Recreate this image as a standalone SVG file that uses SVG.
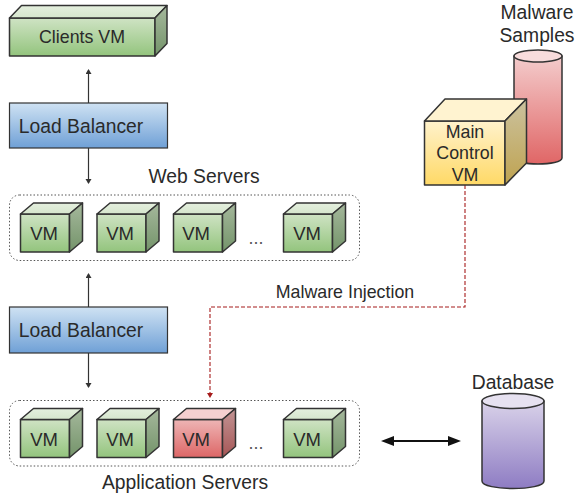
<svg xmlns="http://www.w3.org/2000/svg" width="575" height="496" viewBox="0 0 575 496">
<style>
text{font-family:"Liberation Sans",Arial,sans-serif;fill:#2a2a2a;text-anchor:middle}
.e{stroke:#333;stroke-width:1.500;stroke-linejoin:round}
.c{fill:none;stroke:#333;stroke-width:1.200}
.g{fill:url(#gf)}.gt{fill:url(#gt)}.gs{fill:url(#gs)}
.r{fill:url(#rf)}.rt{fill:#f5d0d0}.rs{fill:url(#rs)}
.box{fill:none;stroke:#555;stroke-width:1;stroke-dasharray:1.500 2}
</style>
<defs>
<linearGradient id="gf" x1="0" y1="0" x2="0" y2="1"><stop offset="0" stop-color="#cfe3c4"/><stop offset="1" stop-color="#93c47d"/></linearGradient>
<linearGradient id="gt" x1="0" y1="0" x2="0" y2="1"><stop offset="0" stop-color="#e4efde"/><stop offset="1" stop-color="#d6e6cd"/></linearGradient>
<linearGradient id="gs" x1="0" y1="0" x2="0" y2="1"><stop offset="0" stop-color="#a5b89c"/><stop offset="1" stop-color="#74946a"/></linearGradient>
<linearGradient id="rf" x1="0" y1="0" x2="0" y2="1"><stop offset="0" stop-color="#eeb5b5"/><stop offset="1" stop-color="#dd6666"/></linearGradient>
<linearGradient id="rs" x1="0" y1="0" x2="0" y2="1"><stop offset="0" stop-color="#c29494"/><stop offset="1" stop-color="#a65656"/></linearGradient>
<linearGradient id="b" x1="0" y1="0" x2="0" y2="1"><stop offset="0" stop-color="#cfe2f3"/><stop offset="1" stop-color="#6fa0d6"/></linearGradient>
<linearGradient id="y" x1="0" y1="0" x2="0" y2="1"><stop offset="0" stop-color="#fff2cc"/><stop offset="1" stop-color="#ffd966"/></linearGradient>
<linearGradient id="ys" x1="0" y1="0" x2="0" y2="1"><stop offset="0" stop-color="#cbc29f"/><stop offset="1" stop-color="#bfa350"/></linearGradient>
<linearGradient id="p" x1="0" y1="0" x2="0" y2="1"><stop offset="0" stop-color="#d9d2e9"/><stop offset="1" stop-color="#8e7cc3"/></linearGradient>
<linearGradient id="m" x1="0" y1="0" x2="0" y2="1"><stop offset="0" stop-color="#f4cccc"/><stop offset="1" stop-color="#e06666"/></linearGradient>
<marker id="a" markerWidth="8" markerHeight="8" refX="4" refY="3" orient="auto" markerUnits="userSpaceOnUse"><path d="M0 0L5 3L0 6Z" fill="#333"/></marker>
<marker id="ar" markerWidth="8" markerHeight="8" refX="4" refY="3" orient="auto" markerUnits="userSpaceOnUse"><path d="M0 0L5 3L0 6Z" fill="#a61c1c"/></marker>
<g id="vm"><path class="e g" d="M0 11H49V49H0Z"/><path class="e gt" d="M0 11L13 0H62L49 11Z"/><path class="e gs" d="M49 11L62 0V38L49 49Z"/></g>
<g id="vmr"><path class="e r" d="M0 11H49V49H0Z"/><path class="e rt" d="M0 11L13 0H62L49 11Z"/><path class="e rs" d="M49 11L62 0V38L49 49Z"/></g>
</defs>
<g id="connectors">
<path class="c" d="M88.500 103V70" marker-end="url(#a)"/>
<path class="c" d="M88.500 148V183" marker-end="url(#a)"/>
<path class="c" d="M88.500 307V274" marker-end="url(#a)"/>
<path class="c" d="M88.500 353V387" marker-end="url(#a)"/>
<path fill="none" stroke="#a61c1c" stroke-width="1.100" stroke-dasharray="4 2" d="M465 185V307H210V397" marker-end="url(#ar)"/>
<path stroke="#111" stroke-width="2" fill="none" d="M390 441H452"/>
<path fill="#111" d="M381 441L394 436V446ZM461 441L448 436V446Z"/>
</g>
<g id="clients"><path class="e g" d="M9.500 18H155V56H9.500Z"/><path class="e gt" d="M9.500 18L21.500 5.500H167L155 18Z"/><path class="e gs" d="M155 18L167 5.500V43.500L155 56Z"/><text x="82" y="43" font-size="17.800">Clients VM</text></g>
<g id="lb1"><rect x="9.500" y="103" width="158" height="45" fill="url(#b)" stroke="#333" stroke-width="1.200"/><text x="81" y="133" font-size="19.300">Load Balancer</text></g>
<g id="lb2"><rect x="9.500" y="307" width="158" height="46" fill="url(#b)" stroke="#333" stroke-width="1.200"/><text x="81" y="337" font-size="19.300">Load Balancer</text></g>
<g id="web"><rect class="box" x="9.500" y="195" width="350" height="65.500" rx="10"/><text x="204" y="183" font-size="19.300">Web Servers</text></g>
<g id="web1"><use href="#vm" x="20.500" y="203"/><text x="44" y="240" font-size="18.500">VM</text></g>
<g id="web2"><use href="#vm" x="97" y="203"/><text x="120" y="240" font-size="18.500">VM</text></g>
<g id="web3"><use href="#vm" x="173.500" y="203"/><text x="196" y="240" font-size="18.500">VM</text></g>
<g id="web4"><use href="#vm" x="283.500" y="203"/><text x="307" y="240" font-size="18.500">VM</text></g>
<text x="256" y="244" font-size="17.800" style="fill:#555">...</text>
<g id="app"><rect class="box" x="9.500" y="400.500" width="350" height="65.500" rx="10"/><text x="185" y="489" font-size="19.300">Application Servers</text></g>
<g id="app1"><use href="#vm" x="20.500" y="408.500"/><text x="44" y="446" font-size="18.500">VM</text></g>
<g id="app2"><use href="#vm" x="97" y="408.500"/><text x="120" y="446" font-size="18.500">VM</text></g>
<g id="app3"><use href="#vmr" x="173.500" y="408.500"/><text x="196" y="446" font-size="18.500">VM</text></g>
<g id="app4"><use href="#vm" x="283.500" y="408.500"/><text x="307" y="446" font-size="18.500">VM</text></g>
<text x="256" y="449" font-size="17.800" style="fill:#555">...</text>
<g id="db"><path class="e" fill="url(#p)" d="M482 401V481C482 491 544 491 544 481V401Z"/><ellipse class="e" cx="513" cy="401" rx="31" ry="7.500" fill="#e6e1f0"/><text x="513" y="389" font-size="19.300">Database</text></g>
<g id="samples"><path class="e" fill="url(#m)" d="M514 56V158C514 166 562 166 562 158V56Z"/><ellipse class="e" cx="538" cy="56" rx="24" ry="6" fill="#f8dcdc"/><text x="537" y="19" font-size="19.300">Malware</text><text x="537" y="42" font-size="19.300">Samples</text></g>
<g id="main"><path class="e" fill="url(#y)" d="M424.500 121H505V185H424.500Z"/><path class="e" fill="#fff3d0" d="M424.500 121L445 99H526.500L505 121Z"/><path class="e" fill="url(#ys)" d="M505 121L526.500 99V163L505 185Z"/><text x="465" y="138" font-size="17.800">Main</text><text x="465" y="159" font-size="17.800">Control</text><text x="465" y="181" font-size="17.800">VM</text></g>
<text x="345" y="298" font-size="17.800">Malware Injection</text>
</svg>
